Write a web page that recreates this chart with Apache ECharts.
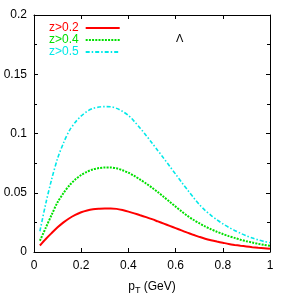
<!DOCTYPE html>
<html><head><meta charset="utf-8">
<script src="https://cdn.jsdelivr.net/npm/echarts@6/dist/echarts.min.js"></script>
<style>html,body{margin:0;padding:0;background:#fff}#c{width:294px;height:300px}</style>
</head><body><div id="c"></div>
<script>
const pT = [0.025,0.05,0.075,0.1,0.125,0.15,0.175,0.2,0.225,0.25,0.275,0.3,0.325,0.35,0.375,0.4,0.425,0.45,0.475,0.5,
            0.525,0.55,0.575,0.6,0.625,0.65,0.675,0.7,0.725,0.75,0.775,0.8,0.825,0.85,0.875,0.9,0.925,0.95,0.975,1.0];
const z02 = [0.0055,0.011,0.016,0.0208,0.025,0.0285,0.0313,0.0335,0.035,0.036,0.0365,0.0368,0.0368,0.0364,0.0354,0.0341,0.0326,0.031,0.0294,0.0277,
             0.0258,0.0239,0.022,0.0201,0.0182,0.0163,0.0145,0.0128,0.0112,0.0099,0.0088,0.0078,0.0068,0.006,0.0053,0.0047,0.0041,0.0036,0.0032,0.0028];
const z04 = [0.0095,0.0205,0.0315,0.042,0.0497,0.0562,0.0612,0.065,0.0678,0.0697,0.0708,0.0713,0.0713,0.0706,0.069,0.0669,0.0642,0.0611,0.0578,0.0543,
             0.0505,0.0465,0.0424,0.0383,0.0343,0.0305,0.0272,0.0243,0.0216,0.0192,0.0171,0.0152,0.0134,0.0119,0.0104,0.0091,0.008,0.0069,0.006,0.0052];
const z05 = [0.0175,0.041,0.0615,0.079,0.092,0.1025,0.1095,0.1148,0.1187,0.1212,0.1223,0.1227,0.1226,0.1212,0.1187,0.1153,0.1102,0.1045,0.0984,0.092,
             0.0855,0.079,0.0724,0.0657,0.059,0.0525,0.0462,0.0402,0.0352,0.031,0.0272,0.0238,0.0208,0.0182,0.0158,0.0137,0.0118,0.0102,0.0089,0.0078];
const seriesNames = ['z>0.2','z>0.4','z>0.5'];
const xTicks = [0,0.2,0.4,0.6,0.8,1];
const yTicks = [0,0.05,0.1,0.15,0.2];

const colors = ['#ff0000','#00e000','#00e8e8'];
const pair = (ys)=>pT.map((x,i)=>[x,ys[i]]);
const font = 'Liberation Sans, Arial, sans-serif';
const chart = echarts.init(document.getElementById('c'));
const axisCommon = {
  axisLine:{show:true,onZero:false,lineStyle:{color:'#000',width:1}},
  axisTick:{show:true,inside:true,length:4,lineStyle:{color:'#000'}},
  splitLine:{show:false}
};
chart.setOption({
  animation:false,
  grid:{left:34,right:24,top:15,bottom:48},
  legend:{
    left:44, top:17, orient:'vertical', align:'right', itemGap:0,
    itemWidth:34, itemHeight:13,
    itemStyle:{opacity:0},
    textStyle:{fontFamily:font,fontSize:12,padding:[0,2,0,0]},
    data:seriesNames.map((n,i)=>({name:n,textStyle:{color:colors[i]}}))
  },
  xAxis:[
    Object.assign({type:'value',min:0,max:1,interval:0.2,position:'bottom',
      axisLabel:{color:'#000',fontFamily:font,fontSize:12,margin:8,formatter:v=>xTicks.includes(v)?String(v):''},
      name:'{a|p}{b|T}{a| (GeV)}',nameLocation:'middle',nameGap:26,
      nameTextStyle:{rich:{a:{fontFamily:font,fontSize:12,color:'#000'},b:{fontFamily:font,fontSize:9,color:'#000',verticalAlign:'bottom',padding:[8,0,0,0]}}}
    },axisCommon),
    Object.assign({type:'value',min:0,max:1,interval:0.2,position:'top',axisLabel:{show:false}},axisCommon)
  ],
  yAxis:[
    Object.assign({type:'value',min:0,max:0.2,interval:0.05,position:'left',
      minorTick:{show:true,splitNumber:2,length:3,lineStyle:{color:'#000'}},
      axisLabel:{color:'#000',fontFamily:font,fontSize:12,margin:7,formatter:v=>String(v)}
    },axisCommon),
    Object.assign({type:'value',min:0,max:0.2,interval:0.05,position:'right',
      minorTick:{show:true,splitNumber:2,length:3,lineStyle:{color:'#000'}},
      axisLabel:{show:false}},axisCommon)
  ],
  graphic:[{type:'text',left:176,top:33,style:{text:'Λ',font:'11px '+font,fill:'#000'}}],
  series:[
    {name:seriesNames[0],type:'line',data:pair(z02),smooth:0.3,symbol:'none',itemStyle:{color:colors[0]},lineStyle:{color:colors[0],width:2,type:'solid'}},
    {name:seriesNames[1],type:'line',data:pair(z04),smooth:0.3,symbol:'none',itemStyle:{color:colors[1]},lineStyle:{color:colors[1],width:2,type:[2,1.2]}},
    {name:seriesNames[2],type:'line',data:pair(z05),smooth:0.3,symbol:'none',itemStyle:{color:colors[2]},lineStyle:{color:colors[2],width:1.6,type:[4,2,1.5,2]}}
  ]
});
</script></body></html>
